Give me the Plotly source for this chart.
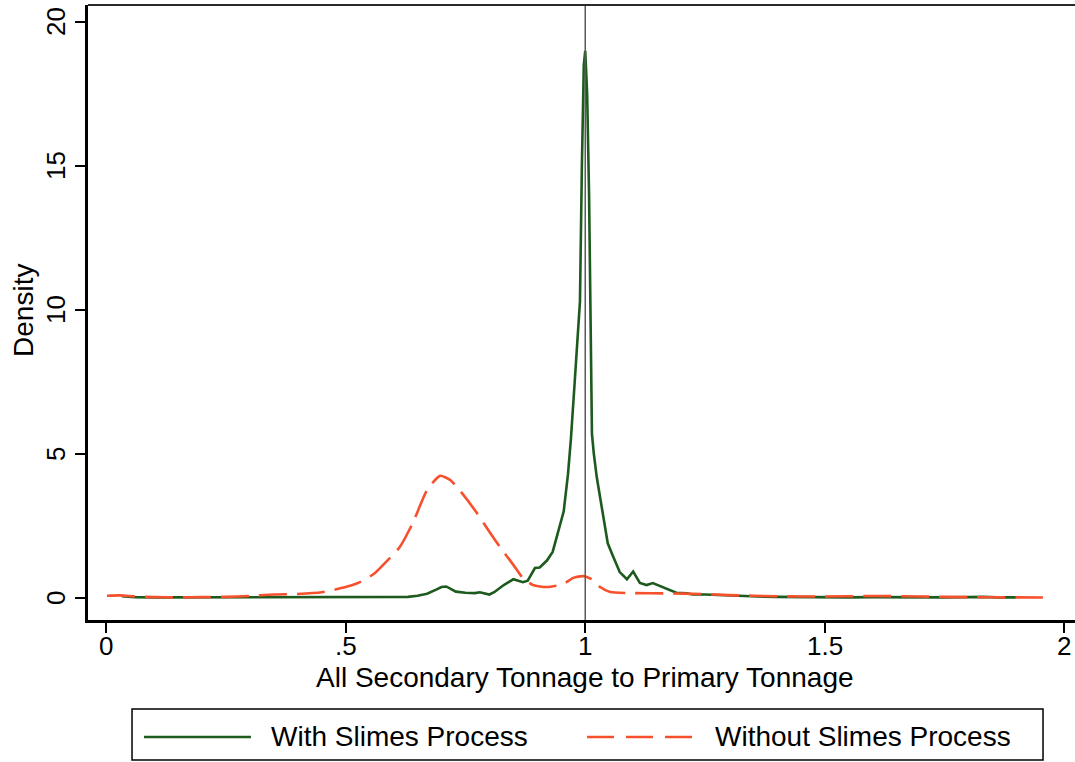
import plotly.graph_objects as go

# ---- data ----
with_x = [0.033, 0.06, 0.10, 0.15, 0.20, 0.25, 0.30, 0.35, 0.40, 0.45, 0.50, 0.55, 0.60, 0.63,
          0.65, 0.67, 0.69, 0.70, 0.71, 0.72, 0.73, 0.75, 0.77, 0.78, 0.79, 0.80, 0.81, 0.83,
          0.85, 0.87, 0.88, 0.895, 0.905, 0.92, 0.932, 0.944, 0.955, 0.964, 0.970, 0.978,
          0.985, 0.989, 0.993, 0.997, 1.000, 1.004, 1.008, 1.011, 1.014, 1.018, 1.024, 1.031,
          1.047, 1.058, 1.072, 1.087, 1.100, 1.114, 1.128, 1.141, 1.162, 1.190, 1.212, 1.225,
          1.25, 1.28, 1.32, 1.36, 1.40, 1.45, 1.50, 1.55, 1.60, 1.65, 1.70, 1.75, 1.80, 1.83,
          1.86, 1.90]
with_y = [0.06, 0.03, 0.02, 0.02, 0.02, 0.02, 0.02, 0.02, 0.03, 0.02, 0.02, 0.03, 0.03, 0.04,
          0.08, 0.15, 0.30, 0.38, 0.40, 0.32, 0.22, 0.18, 0.17, 0.20, 0.15, 0.12, 0.20, 0.45,
          0.65, 0.55, 0.60, 1.04, 1.06, 1.30, 1.60, 2.30, 3.00, 4.30, 5.50, 7.50,
          9.10, 10.3, 15.0, 18.5, 19.0, 17.5, 14.0, 10.0, 5.70, 5.00, 4.20, 3.50,
          1.90, 1.45, 0.90, 0.65, 0.92, 0.52, 0.45, 0.52, 0.38, 0.18, 0.16, 0.12,
          0.12, 0.10, 0.06, 0.05, 0.04, 0.03, 0.03, 0.02, 0.03, 0.02, 0.02, 0.02, 0.03, 0.04,
          0.02, 0.02]

without_x = [0.002, 0.03, 0.06, 0.10, 0.15, 0.20, 0.25, 0.30, 0.35, 0.40, 0.45, 0.50, 0.53,
             0.56, 0.59, 0.613, 0.64, 0.67, 0.697, 0.718, 0.74, 0.774, 0.80, 0.822, 0.85,
             0.87, 0.891, 0.92, 0.954, 0.975, 0.996, 1.017, 1.031, 1.052, 1.10, 1.17, 1.24,
             1.30, 1.40, 1.50, 1.60, 1.70, 1.80, 1.90, 1.973]
without_y = [0.08, 0.09, 0.05, 0.03, 0.02, 0.03, 0.04, 0.07, 0.12, 0.14, 0.20, 0.38, 0.55,
             0.85, 1.35, 1.77, 2.60, 3.75, 4.24, 4.10, 3.70, 2.95, 2.30, 1.77, 1.15,
             0.69, 0.45, 0.38, 0.48, 0.70, 0.76, 0.62, 0.38, 0.21, 0.17, 0.16, 0.14,
             0.10, 0.06, 0.05, 0.07, 0.05, 0.03, 0.02, 0.02]

x_ticks = [0, 0.5, 1, 1.5, 2]
x_tick_labels = ["0", ".5", "1", "1.5", "2"]
y_ticks = [0, 5, 10, 15, 20]
y_tick_labels = ["0", "5", "10", "15", "20"]
ref_line_x = 1.0

x_title = "All Secondary Tonnage to Primary Tonnage"
y_title = "Density"
series_names = ["With Slimes Process", "Without Slimes Process"]
GREEN = "#1d5a1d"
ORANGE = "#f6502c"
FONT = "Liberation Sans, Arial, Helvetica, sans-serif"

fig = go.Figure()
fig.add_trace(go.Scatter(x=with_x, y=with_y, mode="lines", name=series_names[0],
                         line=dict(color=GREEN, width=2.6), showlegend=False))
fig.add_trace(go.Scatter(x=without_x, y=without_y, mode="lines", name=series_names[1],
                         line=dict(color=ORANGE, width=2.6, dash="28px,10px", shape="spline",
                                   smoothing=0.6), showlegend=False))

# vertical reference line at x = 1
fig.add_shape(type="line", xref="x", yref="paper", x0=ref_line_x, x1=ref_line_x, y0=0, y1=1,
              line=dict(color="#5a5a5a", width=1.5), layer="above")
# top frame line
fig.add_shape(type="line", xref="paper", yref="paper", x0=0, x1=1, y0=1, y1=1,
              line=dict(color="#2a2a2a", width=2))

# tick labels placed close to the ticks (Stata style)
for v, t in zip(x_ticks, x_tick_labels):
    fig.add_annotation(xref="x", yref="paper", x=v, y=-0.0423, text=t, showarrow=False,
                       xanchor="center", yanchor="middle",
                       font=dict(family=FONT, size=26, color="black"))
for v, t in zip(y_ticks, y_tick_labels):
    fig.add_annotation(xref="paper", yref="y", x=-0.0324, y=v, text=t, showarrow=False,
                       textangle=-90, xanchor="center", yanchor="middle",
                       font=dict(family=FONT, size=26, color="black"))
# axis titles
fig.add_annotation(xref="paper", yref="paper", x=(585 - 88) / 987, y=-0.0943, text=x_title,
                   showarrow=False, xanchor="center", yanchor="middle",
                   font=dict(family=FONT, size=28, color="black"))
fig.add_annotation(xref="paper", yref="paper", x=-0.0659, y=(620 - 310) / 615, text=y_title,
                   showarrow=False, textangle=-90, xanchor="center", yanchor="middle",
                   font=dict(family=FONT, size=28, color="black"))

# manual legend (box, sample lines, labels)
fig.add_shape(type="rect", xref="paper", yref="paper", x0=0.0446, x1=0.9676, y0=-0.2276, y1=-0.1447,
              line=dict(color="black", width=1.5), fillcolor="white")
fig.add_shape(type="line", xref="paper", yref="paper", x0=0.0567, x1=0.1651, y0=-0.1902, y1=-0.1902,
              line=dict(color=GREEN, width=2.6))
fig.add_shape(type="line", xref="paper", yref="paper", x0=0.5056, x1=0.6130, y0=-0.1902, y1=-0.1902,
              line=dict(color=ORANGE, width=2.6, dash="27px,12px"))
fig.add_annotation(xref="paper", yref="paper", x=0.1834, y=-0.1902, text=series_names[0],
                   showarrow=False, xanchor="left", yanchor="middle",
                   font=dict(family=FONT, size=28, color="black"))
fig.add_annotation(xref="paper", yref="paper", x=0.6332, y=-0.1902, text=series_names[1],
                   showarrow=False, xanchor="left", yanchor="middle",
                   font=dict(family=FONT, size=28, color="black"))

fig.update_layout(
    width=1075, height=762,
    margin=dict(l=88, r=0, t=5, b=142),
    paper_bgcolor="white", plot_bgcolor="white",
    font=dict(family=FONT, color="black"),
    xaxis=dict(range=[-0.0376, 2.022], tickvals=x_ticks, showticklabels=False,
               showgrid=False, zeroline=False, showline=True, linecolor="black", linewidth=2.5,
               ticks="outside", ticklen=10, tickwidth=2, tickcolor="black"),
    yaxis=dict(range=[-0.764, 20.59], tickvals=y_ticks, showticklabels=False,
               showgrid=False, zeroline=False, showline=True, linecolor="black", linewidth=2.5,
               ticks="outside", ticklen=10, tickwidth=2, tickcolor="black"),
)

fig.write_html("out.html", config={"displayModeBar": False},
               post_script="document.body.style.margin='0';document.body.style.padding='0';")
